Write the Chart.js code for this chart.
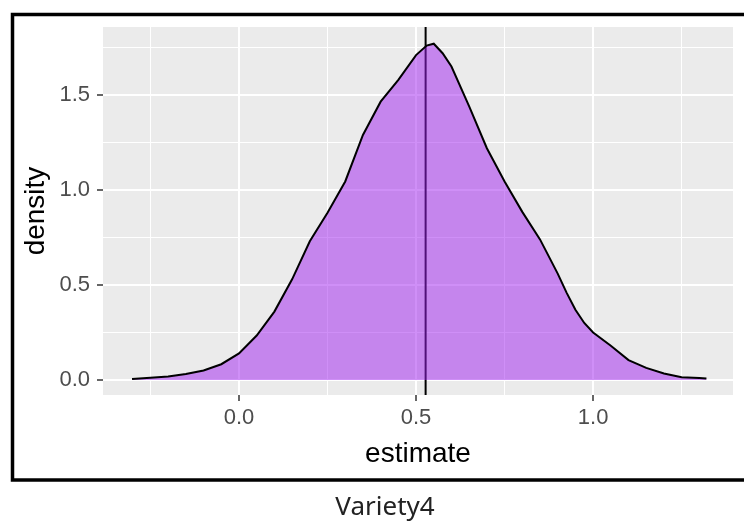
<!DOCTYPE html>
<html>
<head>
<meta charset="utf-8">
<script src="https://cdn.jsdelivr.net/npm/chart.js"></script>
<style>
  body { margin: 0; background: #fff; }
</style>
</head>
<body>
<canvas id="densityChart" width="744" height="521"></canvas>
<script>
// posterior draws for Variety4
var estimateValues = [-0.302, -0.25, -0.20, -0.15, -0.10, -0.05, 0.00, 0.05, 0.10, 0.15,
  0.20, 0.25, 0.30, 0.35, 0.40, 0.45, 0.50, 0.53, 0.55, 0.575, 0.60, 0.65, 0.70, 0.75,
  0.80, 0.85, 0.90, 0.925, 0.95, 0.975, 1.00, 1.05, 1.10, 1.15, 1.20, 1.25, 1.30, 1.32];
var densityValues = [0.005, 0.012, 0.018, 0.032, 0.05, 0.083, 0.14, 0.234, 0.36, 0.53,
  0.73, 0.88, 1.045, 1.29, 1.465, 1.58, 1.71, 1.76, 1.77, 1.72, 1.65, 1.44, 1.22, 1.045,
  0.885, 0.74, 0.56, 0.46, 0.37, 0.30, 0.25, 0.18, 0.105, 0.064, 0.034, 0.015, 0.01, 0.008];
var meanEstimate = 0.527;

var xGridValues = [-0.25, 0, 0.25, 0.5, 0.75, 1.0, 1.25];
var yGridValues = [0, 0.25, 0.5, 0.75, 1.0, 1.25, 1.5, 1.75];
var xRange = [-0.384, 1.395];
var yRange = [-0.079, 1.858];
var captionText = "Variety4";

var curvePoints = estimateValues.map(function (x, i) { return {x: x, y: densityValues[i]}; });

function isMajor(v) { return Math.abs(v * 2 - Math.round(v * 2)) < 1e-6; }

var panelPlugin = {
  id: "panel",
  beforeDraw: function (chart) {
    var c = chart.ctx, a = chart.chartArea;
    c.save();
    c.fillStyle = "#ffffff";
    c.fillRect(0, 0, chart.width, chart.height);
    c.fillStyle = "#EBEBEB";
    c.fillRect(a.left, a.top, a.right - a.left, a.bottom - a.top);
    c.restore();
  },
  afterDraw: function (chart) {
    var c = chart.ctx;
    c.save();
    c.strokeStyle = "#000";
    c.lineWidth = 3.5;
    c.strokeRect(12.5, 14.5, 800, 465.5);
    c.fillStyle = "#222";
    c.font = "26px 'Noto Sans'";
    c.textAlign = "center";
    c.textBaseline = "alphabetic";
    c.fillText(captionText, 385, 515);
    c.restore();
  }
};

var tickFont = {family: "'Liberation Sans', Arial, sans-serif", size: 22};
var titleFont = {family: "'Liberation Sans', Arial, sans-serif", size: 28};

new Chart("densityChart", {
  type: "line",
  data: {
    datasets: [{
      data: curvePoints,
      borderColor: "#000",
      borderWidth: 2,
      backgroundColor: "rgba(160,32,240,0.5)",
      fill: "origin",
      pointRadius: 0,
      tension: 0
    }, {
      data: [{x: meanEstimate, y: yRange[0]}, {x: meanEstimate, y: yRange[1]}],
      borderColor: "#000",
      borderWidth: 2,
      fill: false,
      pointRadius: 0
    }]
  },
  options: {
    responsive: false,
    animation: false,
    layout: {padding: {left: 0, top: 27, right: 11, bottom: 50}},
    plugins: {legend: {display: false}, tooltip: {enabled: false}},
    scales: {
      x: {
        type: "linear",
        min: xRange[0],
        max: xRange[1],
        afterBuildTicks: function (s) { s.ticks = xGridValues.map(function (v) { return {value: v}; }); },
        afterFit: function (s) { s.height = 76; },
        border: {display: false},
        grid: {
          color: "#ffffff",
          lineWidth: function (ctx) { return ctx.tick && isMajor(ctx.tick.value) ? 2 : 1; },
          tickLength: 6,
          tickWidth: 1.5,
          tickColor: function (ctx) { return ctx.tick && isMajor(ctx.tick.value) ? "#333333" : "rgba(0,0,0,0)"; }
        },
        ticks: {
          autoSkip: false,
          maxRotation: 0,
          padding: 4,
          color: "#4D4D4D",
          font: tickFont,
          callback: function (v) { return isMajor(v) ? v.toFixed(1) : ""; }
        },
        title: {display: true, text: "estimate", color: "#000", font: titleFont, padding: {top: 0, bottom: 0}}
      },
      y: {
        min: yRange[0],
        max: yRange[1],
        afterBuildTicks: function (s) { s.ticks = yGridValues.map(function (v) { return {value: v}; }); },
        afterFit: function (s) { s.width = 103; },
        border: {display: false},
        grid: {
          color: "#ffffff",
          lineWidth: function (ctx) { return ctx.tick && isMajor(ctx.tick.value) ? 2 : 1; },
          tickLength: 6,
          tickWidth: 1.5,
          tickColor: function (ctx) { return ctx.tick && isMajor(ctx.tick.value) ? "#333333" : "rgba(0,0,0,0)"; }
        },
        ticks: {
          autoSkip: false,
          padding: 7,
          color: "#4D4D4D",
          font: tickFont,
          callback: function (v) { return isMajor(v) ? v.toFixed(1) : ""; }
        },
        title: {display: true, text: "density", color: "#000", font: titleFont, padding: {top: 19, bottom: 0}}
      }
    }
  },
  plugins: [panelPlugin]
});
</script>
</body>
</html>
